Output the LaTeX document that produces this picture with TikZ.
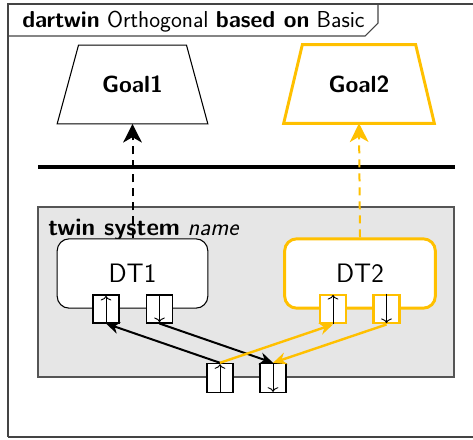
\documentclass[tikz,border=0pt]{standalone}
\usetikzlibrary{arrows.meta}
\renewcommand{\familydefault}{\sfdefault}
\definecolor{dtyellow}{HTML}{FFC000}
\definecolor{sysfill}{HTML}{E6E6E6}
\definecolor{sysline}{HTML}{555555}
\definecolor{frameline}{HTML}{444444}
\begin{document}
\begin{tikzpicture}[x=0.75pt,y=-0.75pt,
  goal/.style={minimum width=113pt, minimum height=59pt, inner sep=0pt, outer sep=0pt,
    font=\fontsize{17.5}{20}\selectfont\bfseries},
  goalshape/.style={line width=0.8pt, line join=miter},
  dtbox/.style={draw, rounded corners=9pt, fill=white, minimum width=113pt,
    minimum height=52pt, line width=0.8pt, font=\fontsize{20}{23}\selectfont},
  port/.style={draw, fill=white, minimum width=19.5pt, minimum height=21pt,
    inner sep=0pt, line width=0.8pt},
  portarrow/.style={line width=0.7pt, -{To[length=3.5pt,width=8pt]}},
  conn/.style={line width=1.5pt, -{Stealth[length=10pt,width=9pt]}},
  realize/.style={line width=1.5pt, dash pattern=on 6pt off 4.5pt,
    -{Stealth[length=14pt,width=14pt,inset=4pt]}},
  yel/.style={draw=dtyellow, color=dtyellow},
  labeltext/.style={inner sep=0pt, font=\fontsize{18.2}{21}\selectfont}
]
\useasboundingbox (0,0) rectangle (473,439);
% outer frame
\draw[frameline, line width=0.9pt] (8,437) -- (8,4) -- (480,4);
\draw[frameline, line width=0.9pt] (8,437) -- (480,437);
% title tab
\draw[frameline, line width=0.8pt] (8,36) -- (365,36) -- (378,23) -- (378,4);
\node[anchor=base west, inner sep=0pt, font=\fontsize{17.3}{20}\selectfont] (title) at (22,27.5)
  {\textbf{dartwin} Orthogonal \textbf{based on} Basic};
% goals
\node[goal] (g1) at (132.5,84.5) {Goal1};
\draw[goalshape] (g1.south west) -- (g1.south east) -- ([xshift=-16pt]g1.north east) -- ([xshift=16pt]g1.north west) -- cycle;
\node[goal] (g2) at (359,84) {Goal2};
\draw[goalshape, dtyellow, line width=2.2pt] (g2.south west) -- (g2.south east) -- ([xshift=-14pt]g2.north east) -- ([xshift=14pt]g2.north west) -- cycle;
% separator
\coordinate (sepL) at (38,167);
\coordinate (sepR) at (455,167);
\draw[line width=2.4pt] (sepL) -- (sepR);
% twin system
\node[draw=sysline, fill=sysfill, line width=1pt, minimum width=312pt, minimum height=127.5pt] (sys) at (246,292) {};
\node[anchor=base west, labeltext] (syslabel) at (48,235)
  {\textbf{twin system} \textit{name}};
% realization dashed arrows
\node[dtbox] (dt1) at (132.5,273.5) {DT1};
\node[dtbox, draw=dtyellow, line width=2.2pt] (dt2) at (360,273.5) {DT2};
\draw[realize] (dt1.north) -- (g1.south);
\draw[realize, yel] (dt2.north) -- (g2.south);
% ports
\node[port] (p1in) at (106,309) {};
\node[port] (p1out) at (159.5,309) {};
\node[port, draw=dtyellow, line width=2.2pt] (p2in) at (333,309) {};
\node[port, draw=dtyellow, line width=2.2pt] (p2out) at (386.5,309) {};
\node[port, minimum height=22pt] (sin) at (220,378) {};
\node[port, minimum height=22pt] (sout) at (273,378) {};
\foreach \p in {p1in,p2in,sin} \draw[portarrow] (\p.south) -- ([yshift=-1pt]\p.north);
\foreach \p in {p1out,p2out,sout} \draw[portarrow] (\p.north) -- ([yshift=1pt]\p.south);
% connectors
\draw[conn] (sin.north) -- (p1in.south);
\draw[conn] (p1out.south) -- (sout.north);
\draw[conn, yel, line width=1.8pt] (sin.north) -- (p2in.south);
\draw[conn, yel, line width=1.8pt] (p2out.south) -- (sout.north);
\end{tikzpicture}
\end{document}
